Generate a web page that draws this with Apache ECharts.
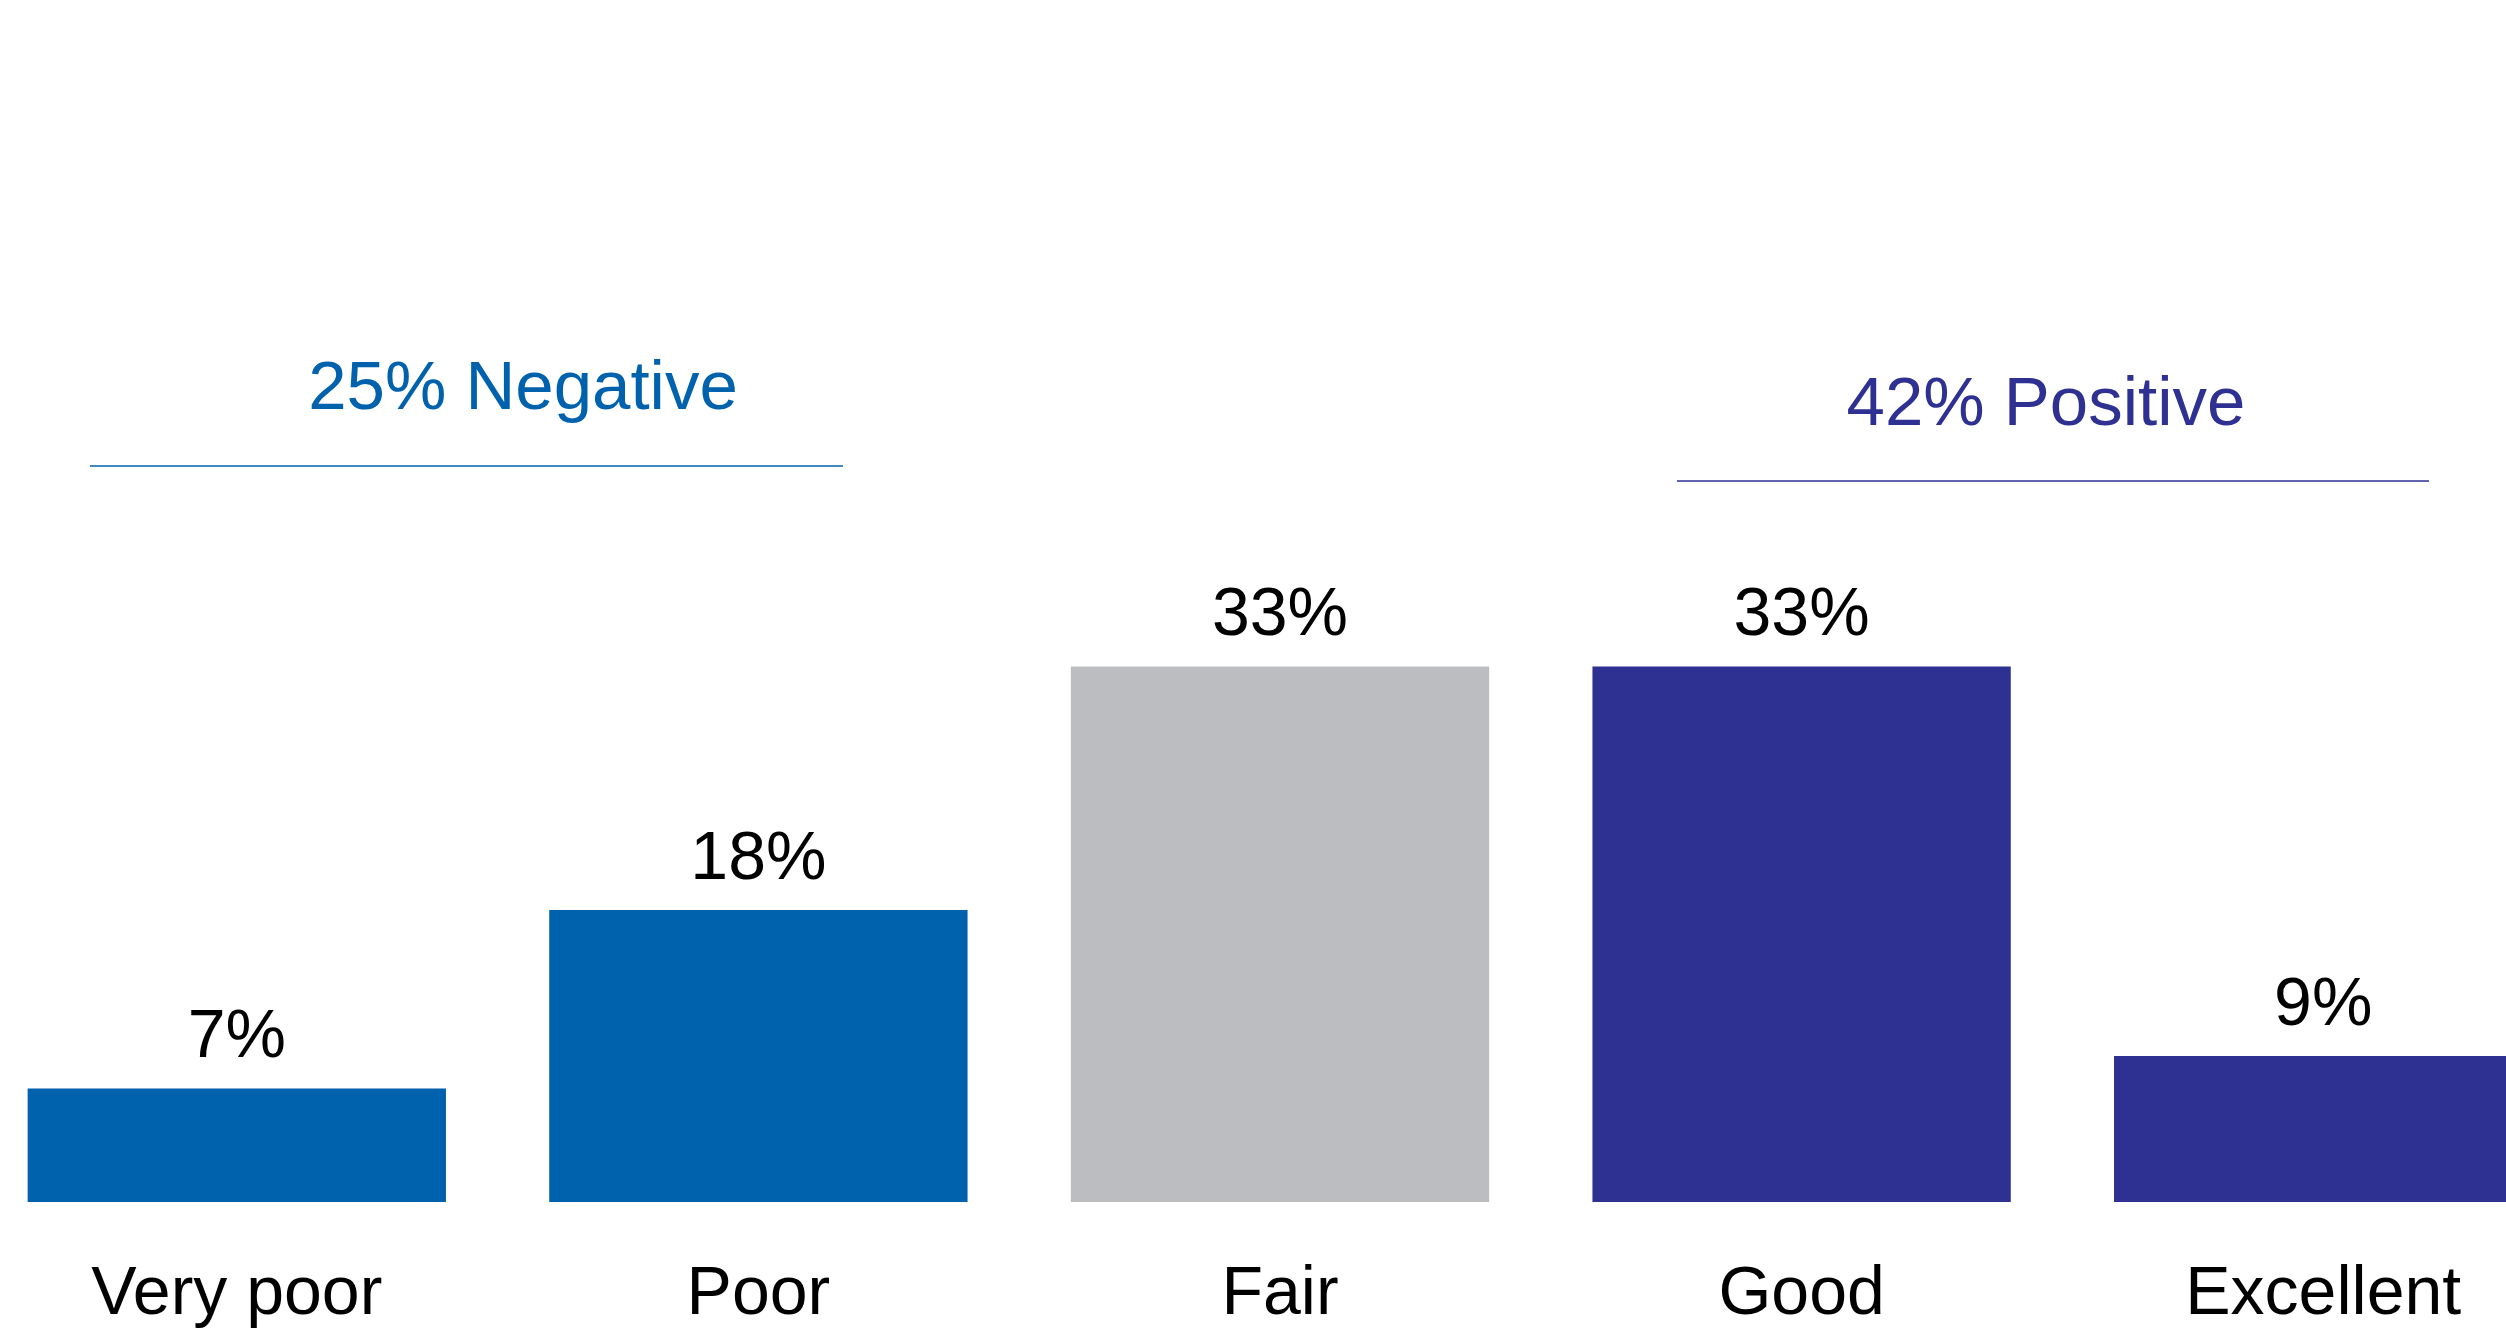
<!DOCTYPE html>
<html>
<head>
<meta charset="utf-8">
<script src="https://cdn.jsdelivr.net/npm/echarts@6/dist/echarts.min.js"></script>
<style>
  html, body { margin: 0; padding: 0; background: #ffffff; overflow: hidden; }
  #frame { position: relative; width: 2506px; height: 1332px; overflow: hidden; }
  /* The plot runs slightly past both page edges, so the canvas is offset and clipped */
  #chart { position: absolute; left: -24px; top: 0; width: 2608px; height: 1332px; }
</style>
</head>
<body>
<div id="frame"><div id="chart"></div></div>
<script>
// Ratings and their shares (percent)
const categories = ['Very poor', 'Poor', 'Fair', 'Good', 'Excellent'];
const shares = [7, 18, 33, 33, 9];
// Which bracket each rating belongs to
const groups = ['negative', 'negative', 'neutral', 'positive', 'positive'];

const COLORS = { negative: '#0061ad', neutral: '#bcbdc0', positive: '#2e3192' };
const FONT = '"Liberation Sans", Arial, sans-serif';
const OFFSET = 24; // canvas starts 24px left of the page

const sumOf = g => shares.reduce((s, v, i) => s + (groups[i] === g ? v : 0), 0);
const negativeLabel = sumOf('negative') + '% Negative';
const positiveLabel = sumOf('positive') + '% Positive';

const chart = echarts.init(document.getElementById('chart'), null, { renderer: 'canvas' });

chart.setOption({
  backgroundColor: '#ffffff',
  animation: false,
  grid: { left: 0, right: 0, top: 553, bottom: 130, containLabel: false },
  xAxis: {
    type: 'category',
    data: categories,
    axisLine: { show: false },
    axisTick: { show: false },
    axisLabel: {
      interval: 0,
      margin: 59,
      fontFamily: FONT,
      fontSize: 68,
      color: '#000000'
    }
  },
  yAxis: { type: 'value', min: 0, max: 40, show: false, splitLine: { show: false } },
  series: [{
    type: 'bar',
    barCategoryGap: '19.8%',
    data: shares.map((v, i) => ({ value: v, itemStyle: { color: COLORS[groups[i]] } })),
    label: {
      show: true,
      position: 'top',
      distance: 16,
      formatter: '{c}%',
      fontFamily: FONT,
      fontSize: 68,
      color: '#000000'
    }
  }],
  graphic: [
    {
      type: 'text',
      x: 523 + OFFSET, y: 355,
      style: { text: negativeLabel, fontFamily: FONT, fontSize: 69, fill: COLORS.negative, align: 'center', verticalAlign: 'top' }
    },
    {
      type: 'line',
      shape: { x1: 90 + OFFSET, y1: 466, x2: 843 + OFFSET, y2: 466 },
      style: { stroke: COLORS.negative, lineWidth: 1.5 }
    },
    {
      type: 'text',
      x: 2046 + OFFSET, y: 371,
      style: { text: positiveLabel, fontFamily: FONT, fontSize: 69, fill: COLORS.positive, align: 'center', verticalAlign: 'top' }
    },
    {
      type: 'line',
      shape: { x1: 1677 + OFFSET, y1: 481, x2: 2429 + OFFSET, y2: 481 },
      style: { stroke: COLORS.positive, lineWidth: 1.5 }
    }
  ]
});
</script>
</body>
</html>
